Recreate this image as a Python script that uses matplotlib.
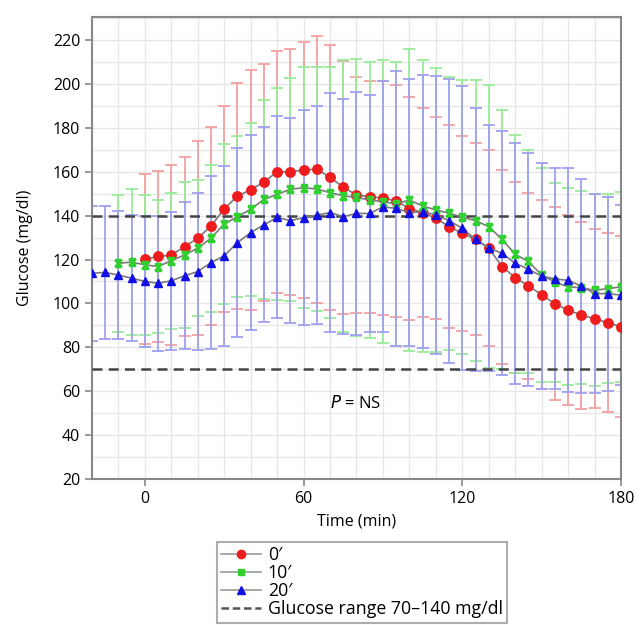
import numpy as np
import matplotlib
matplotlib.use("Agg")
import matplotlib.pyplot as plt
from matplotlib.path import Path
from matplotlib.lines import Line2D

plt.rcParams['font.family'] = ['Open Sans', 'DejaVu Sans']

# ---- data ----
t_red = list(range(0, 181, 5))
red_mean = [120.2, 121.4, 122, 125.9, 129.7, 135.3, 143, 149, 151.7, 155.3, 160, 160, 160.8, 161.2,
            157.4, 153, 149.4, 148.6, 148, 146.7, 143.2, 141.4, 138.8, 135, 132, 129.2, 125.2,
            116.8, 111.8, 108, 104, 99.8, 97, 94.7, 93, 91.2, 89.4]
red_sd = [38.8, 39, 41, 40.8, 44.3, 45, 46.8, 51.4, 54.8, 54, 55.2, 56, 58.5, 60.8, 60.3, 57.6,
          53.8, 52.8, 53.5, 52.8, 50.7, 47.8, 46.1, 46.2, 44.5, 43.7, 44.5, 44.2, 43.4, 42.5,
          43.1, 44, 43.3, 42.6, 40.8, 40.8, 41.1]

t_green = list(range(-10, 181, 5))
green_mean = [118.3, 118.8, 117.6, 116.8, 119.5, 122.1, 125.2, 129.7, 136.2, 139.5, 142.9, 147.4,
              149.7, 152, 152.7, 152.1, 150.5, 149, 148.3, 147.1, 146.4, 145.3, 147.1, 144.4,
              142.6, 141.1, 139.3, 137.7, 135, 129.2, 122.4, 119.1, 113, 109.7, 107.6, 107.1,
              106, 106.7, 107.6]
green_sd = [31.1, 33.2, 32, 30.5, 31, 33.1, 31, 33.5, 36.3, 36.7, 39.4, 45.3, 48.3, 50.8, 54.8,
            55.7, 57.1, 62, 63.2, 62.8, 64.5, 64.7, 68.9, 66.6, 64.8, 62.2, 62.5, 64, 64.4, 59.1,
            54.3, 51, 48.8, 45.3, 44.8, 44, 43.7, 43, 43.3]

t_blue = list(range(-20, 181, 5))
blue_mean = [113.8, 114.1, 112.9, 111.5, 110, 109.2, 110.3, 112.6, 114.5, 118.6, 121.7, 127.7,
             132.3, 135.8, 139.2, 137.7, 139.1, 140.2, 141.4, 139.5, 141, 141, 144, 143.3, 141.4,
             141.8, 140.3, 137.7, 134.2, 129.2, 125.2, 122.9, 118.3, 115.6, 112.4, 111.2, 110.5,
             107.9, 104.5, 104.4, 103.8]
blue_sd = [30.8, 30.3, 29, 28.6, 30, 30.7, 31.5, 33.5, 35.7, 39.5, 41, 43, 44.6, 44.4, 46, 46.6,
           48.8, 49.6, 54.4, 53.6, 55.5, 53.8, 57.2, 62.5, 61, 62.2, 63.5, 64.7, 64.7, 59.8, 56,
           55.7, 54.9, 53, 51.5, 50.3, 51, 48.6, 45.3, 44.2, 41]

labels = ["0\u2032", "10\u2032", "20\u2032"]
range_label = "Glucose range 70\u2013140 mg/dl"
range_lo, range_hi = 70, 140
x_ticks = [0, 60, 120, 180]
y_ticks = list(range(20, 221, 20))

# ---- figure ----
fig = plt.figure(figsize=(6.41, 6.25), dpi=100)
ax = fig.add_axes([0.1435, 0.2336, 0.8253, 0.7392])

ax.set_xlim(-20, 180)
ax.set_ylim(20, 230.5)

ax.set_xticks(np.arange(-20, 181, 10), minor=True)
ax.set_yticks(np.arange(20, 231, 10), minor=True)
ax.set_xticks(x_ticks)
ax.set_yticks(y_ticks)
ax.grid(which='both', color='#e6e6e6', lw=0.9, zorder=0)
ax.set_axisbelow(True)

# error bars
ax.errorbar(t_red, red_mean, yerr=red_sd, fmt='none', ecolor='#f4a0a0', elinewidth=1.3,
            capsize=4, capthick=1.3, zorder=2)
ax.errorbar(t_green, green_mean, yerr=green_sd, fmt='none', ecolor='#98ec98', elinewidth=1.3,
            capsize=4, capthick=1.3, zorder=2.1)
ax.errorbar(t_blue, blue_mean, yerr=blue_sd, fmt='none', ecolor='#a0a0f2', elinewidth=1.3,
            capsize=4, capthick=1.3, zorder=2.2)

ax.axhline(range_hi, color='#444444', ls=(0, (4, 2.5)), lw=1.8, zorder=3)
ax.axhline(range_lo, color='#444444', ls=(0, (4, 2.5)), lw=1.8, zorder=3)

# hourglass-X marker
xm = Path([(-1, -1), (1, 1), (-1, 1), (1, -1), (-1, 1), (1, 1), (-1, -1), (1, -1)],
          [Path.MOVETO, Path.LINETO, Path.MOVETO, Path.LINETO,
           Path.MOVETO, Path.LINETO, Path.MOVETO, Path.LINETO])

ax.plot(t_red, red_mean, color='#7a7a7a', lw=1.2, marker='o', ms=6.8, mfc='#ee1c1c',
        mec='#ee1c1c', zorder=4)
ax.plot(t_green, green_mean, color='#7a7a7a', lw=1.2, marker=xm, ms=5, mec='#2ed12e',
        mew=1.8, zorder=4.1)
ax.plot(t_blue, blue_mean, color='#7a7a7a', lw=1.2, marker='^', ms=6.3, mfc='#1010e6',
        mec='#1010e6', zorder=4.2)

ax.text(70, 54.6, r"$P$ = NS", fontsize=12, ha='left', va='center', zorder=5)

for s in ax.spines.values():
    s.set_color('#888888')
    s.set_linewidth(1.5)
ax.tick_params(which='major', length=5, color='#888888', width=1.2, labelsize=11.5)
ax.tick_params(which='minor', length=0)

ax.set_xlabel("Time (min)", fontsize=11.5, labelpad=5)
ax.set_ylabel("Glucose (mg/dl)", fontsize=11.5, labelpad=14)

handles = [
    Line2D([], [], color='#9a9a9a', lw=1.2, marker='o', ms=6, mfc='#ee1c1c', mec='#ee1c1c'),
    Line2D([], [], color='#9a9a9a', lw=1.2, marker='s', ms=4.5, mfc='#2ed12e', mec='#2ed12e'),
    Line2D([], [], color='#9a9a9a', lw=1.2, marker='^', ms=6, mfc='#1010e6', mec='#1010e6'),
    Line2D([], [], color='#555555', lw=1.8, ls=(0, (3, 1.5))),
]
leg = fig.legend(handles, labels + [range_label], loc='upper left',
                 bbox_to_anchor=(217 / 641, 1 - 542 / 625), fontsize=12.8, frameon=True,
                 fancybox=False, edgecolor='#999999', handlelength=2.2, handletextpad=0.4,
                 labelspacing=0.0, borderpad=0.25, borderaxespad=0)
leg.get_frame().set_linewidth(1.5)

fig.savefig("out.png", dpi=100)
